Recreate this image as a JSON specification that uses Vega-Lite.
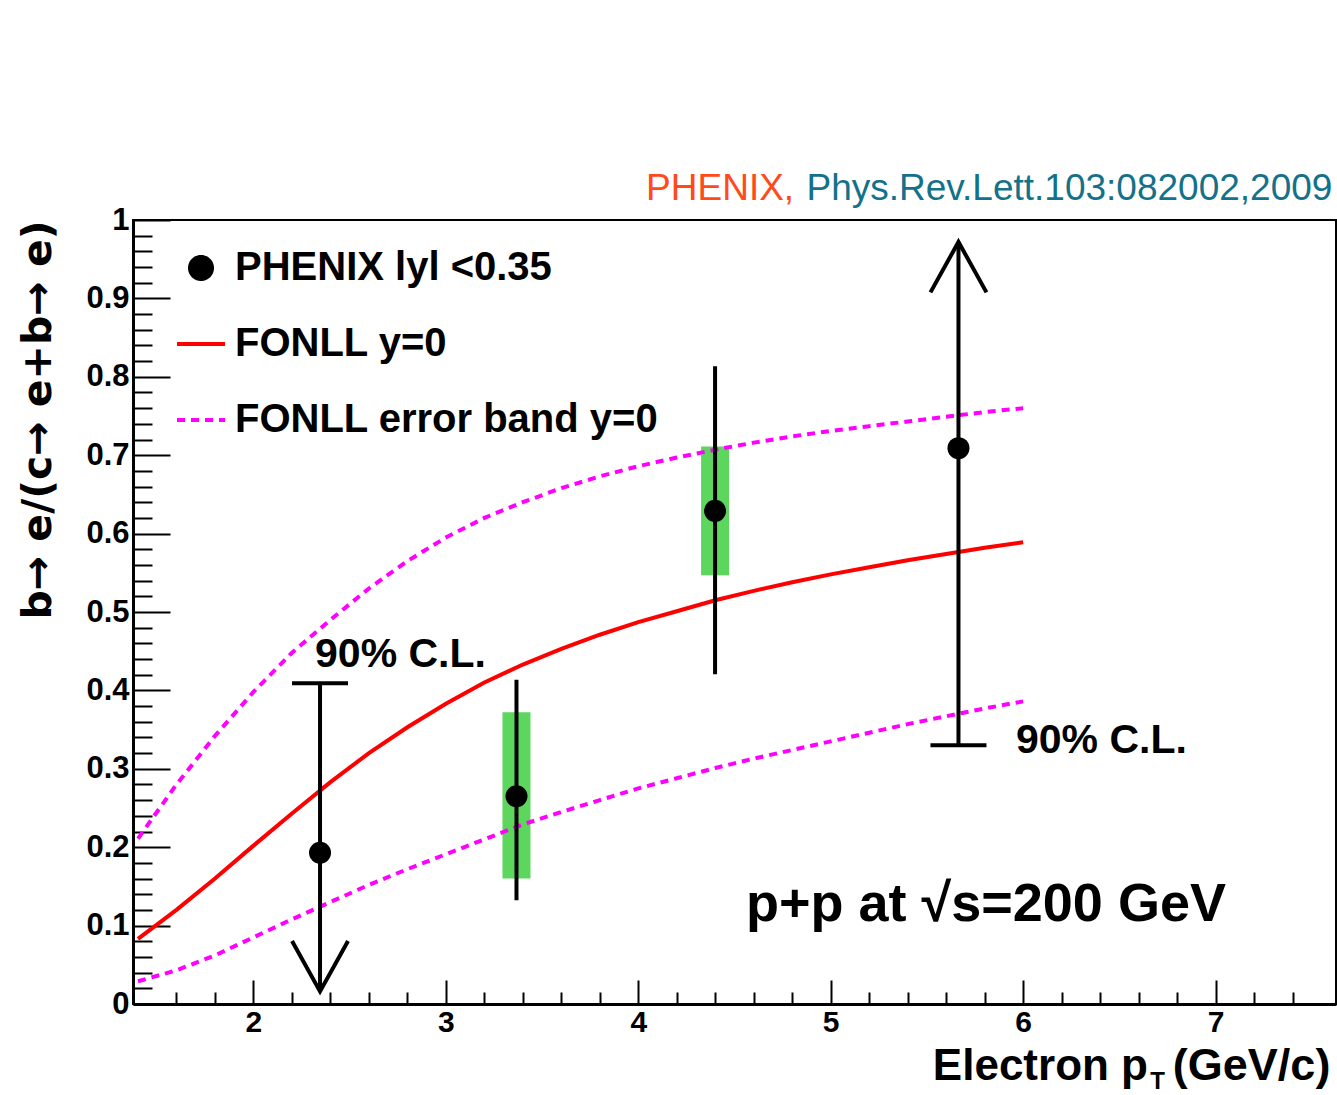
{
  "$schema": "https://vega.github.io/schema/vega-lite/v6.json",
  "width": 1203,
  "height": 784,
  "autosize": "none",
  "padding": {"left": 133, "top": 220, "right": 1, "bottom": 91},
  "background": "white",
  "config": {
    "view": {"stroke": "black", "strokeWidth": 2},
    "font": "Liberation Sans",
    "axis": {"grid": false, "domainColor": "black", "domainWidth": 3, "tickColor": "black", "tickWidth": 2, "labelColor": "black", "labelFont": "Liberation Sans", "labelFontWeight": "bold", "titleColor": "black", "titleFont": "Liberation Sans", "titleFontWeight": "bold", "labelOverlap": false, "labelBound": false}
  },
  "datasets": {
    "points": [
      {"pt": 2.346, "val": 0.193, "series": "PHENIX lyl <0.35", "kind": "upper_limit", "lim": 0.409, "tip": 0.016},
      {"pt": 3.367, "val": 0.265, "series": "PHENIX lyl <0.35", "kind": "measured", "lo": 0.135, "hi": 0.411, "syslo": 0.160, "syshi": 0.372},
      {"pt": 4.399, "val": 0.629, "series": "PHENIX lyl <0.35", "kind": "measured", "lo": 0.423, "hi": 0.811, "syslo": 0.547, "syshi": 0.711},
      {"pt": 5.664, "val": 0.709, "series": "PHENIX lyl <0.35", "kind": "lower_limit", "lim": 0.330, "tip": 0.972}
    ],
    "curves": [
      {"pt": 1.4, "val": 0.083, "series": "FONLL y=0", "part": "central"},
      {"pt": 1.6, "val": 0.120, "series": "FONLL y=0", "part": "central"},
      {"pt": 1.8, "val": 0.160, "series": "FONLL y=0", "part": "central"},
      {"pt": 2.0, "val": 0.202, "series": "FONLL y=0", "part": "central"},
      {"pt": 2.2, "val": 0.243, "series": "FONLL y=0", "part": "central"},
      {"pt": 2.4, "val": 0.283, "series": "FONLL y=0", "part": "central"},
      {"pt": 2.6, "val": 0.320, "series": "FONLL y=0", "part": "central"},
      {"pt": 2.8, "val": 0.353, "series": "FONLL y=0", "part": "central"},
      {"pt": 3.0, "val": 0.383, "series": "FONLL y=0", "part": "central"},
      {"pt": 3.2, "val": 0.410, "series": "FONLL y=0", "part": "central"},
      {"pt": 3.4, "val": 0.433, "series": "FONLL y=0", "part": "central"},
      {"pt": 3.6, "val": 0.453, "series": "FONLL y=0", "part": "central"},
      {"pt": 3.8, "val": 0.471, "series": "FONLL y=0", "part": "central"},
      {"pt": 4.0, "val": 0.487, "series": "FONLL y=0", "part": "central"},
      {"pt": 4.2, "val": 0.501, "series": "FONLL y=0", "part": "central"},
      {"pt": 4.4, "val": 0.515, "series": "FONLL y=0", "part": "central"},
      {"pt": 4.6, "val": 0.527, "series": "FONLL y=0", "part": "central"},
      {"pt": 4.8, "val": 0.538, "series": "FONLL y=0", "part": "central"},
      {"pt": 5.0, "val": 0.548, "series": "FONLL y=0", "part": "central"},
      {"pt": 5.2, "val": 0.557, "series": "FONLL y=0", "part": "central"},
      {"pt": 5.4, "val": 0.566, "series": "FONLL y=0", "part": "central"},
      {"pt": 5.6, "val": 0.574, "series": "FONLL y=0", "part": "central"},
      {"pt": 5.8, "val": 0.582, "series": "FONLL y=0", "part": "central"},
      {"pt": 6.0, "val": 0.589, "series": "FONLL y=0", "part": "central"},
      {"pt": 1.4, "val": 0.211, "series": "FONLL error band y=0", "part": "upper"},
      {"pt": 1.6, "val": 0.280, "series": "FONLL error band y=0", "part": "upper"},
      {"pt": 1.8, "val": 0.342, "series": "FONLL error band y=0", "part": "upper"},
      {"pt": 2.0, "val": 0.398, "series": "FONLL error band y=0", "part": "upper"},
      {"pt": 2.2, "val": 0.448, "series": "FONLL error band y=0", "part": "upper"},
      {"pt": 2.4, "val": 0.490, "series": "FONLL error band y=0", "part": "upper"},
      {"pt": 2.6, "val": 0.530, "series": "FONLL error band y=0", "part": "upper"},
      {"pt": 2.8, "val": 0.565, "series": "FONLL error band y=0", "part": "upper"},
      {"pt": 3.0, "val": 0.595, "series": "FONLL error band y=0", "part": "upper"},
      {"pt": 3.2, "val": 0.620, "series": "FONLL error band y=0", "part": "upper"},
      {"pt": 3.4, "val": 0.640, "series": "FONLL error band y=0", "part": "upper"},
      {"pt": 3.6, "val": 0.658, "series": "FONLL error band y=0", "part": "upper"},
      {"pt": 3.8, "val": 0.673, "series": "FONLL error band y=0", "part": "upper"},
      {"pt": 4.0, "val": 0.686, "series": "FONLL error band y=0", "part": "upper"},
      {"pt": 4.2, "val": 0.697, "series": "FONLL error band y=0", "part": "upper"},
      {"pt": 4.4, "val": 0.707, "series": "FONLL error band y=0", "part": "upper"},
      {"pt": 4.6, "val": 0.716, "series": "FONLL error band y=0", "part": "upper"},
      {"pt": 4.8, "val": 0.724, "series": "FONLL error band y=0", "part": "upper"},
      {"pt": 5.0, "val": 0.731, "series": "FONLL error band y=0", "part": "upper"},
      {"pt": 5.2, "val": 0.737, "series": "FONLL error band y=0", "part": "upper"},
      {"pt": 5.4, "val": 0.743, "series": "FONLL error band y=0", "part": "upper"},
      {"pt": 5.6, "val": 0.749, "series": "FONLL error band y=0", "part": "upper"},
      {"pt": 5.8, "val": 0.755, "series": "FONLL error band y=0", "part": "upper"},
      {"pt": 6.0, "val": 0.760, "series": "FONLL error band y=0", "part": "upper"},
      {"pt": 1.4, "val": 0.029, "series": "FONLL error band y=0", "part": "lower"},
      {"pt": 1.6, "val": 0.043, "series": "FONLL error band y=0", "part": "lower"},
      {"pt": 1.8, "val": 0.062, "series": "FONLL error band y=0", "part": "lower"},
      {"pt": 2.0, "val": 0.085, "series": "FONLL error band y=0", "part": "lower"},
      {"pt": 2.2, "val": 0.108, "series": "FONLL error band y=0", "part": "lower"},
      {"pt": 2.4, "val": 0.130, "series": "FONLL error band y=0", "part": "lower"},
      {"pt": 2.6, "val": 0.152, "series": "FONLL error band y=0", "part": "lower"},
      {"pt": 2.8, "val": 0.172, "series": "FONLL error band y=0", "part": "lower"},
      {"pt": 3.0, "val": 0.191, "series": "FONLL error band y=0", "part": "lower"},
      {"pt": 3.2, "val": 0.210, "series": "FONLL error band y=0", "part": "lower"},
      {"pt": 3.4, "val": 0.229, "series": "FONLL error band y=0", "part": "lower"},
      {"pt": 3.6, "val": 0.245, "series": "FONLL error band y=0", "part": "lower"},
      {"pt": 3.8, "val": 0.260, "series": "FONLL error band y=0", "part": "lower"},
      {"pt": 4.0, "val": 0.275, "series": "FONLL error band y=0", "part": "lower"},
      {"pt": 4.2, "val": 0.288, "series": "FONLL error band y=0", "part": "lower"},
      {"pt": 4.4, "val": 0.301, "series": "FONLL error band y=0", "part": "lower"},
      {"pt": 4.6, "val": 0.313, "series": "FONLL error band y=0", "part": "lower"},
      {"pt": 4.8, "val": 0.324, "series": "FONLL error band y=0", "part": "lower"},
      {"pt": 5.0, "val": 0.335, "series": "FONLL error band y=0", "part": "lower"},
      {"pt": 5.2, "val": 0.346, "series": "FONLL error band y=0", "part": "lower"},
      {"pt": 5.4, "val": 0.357, "series": "FONLL error band y=0", "part": "lower"},
      {"pt": 5.6, "val": 0.367, "series": "FONLL error band y=0", "part": "lower"},
      {"pt": 5.8, "val": 0.377, "series": "FONLL error band y=0", "part": "lower"},
      {"pt": 6.0, "val": 0.386, "series": "FONLL error band y=0", "part": "lower"}
    ],
    "notes": [
      {"text": "90% C.L.", "pt": 2.32, "val": 0.445, "kind": "cl"},
      {"text": "90% C.L.", "pt": 5.963, "val": 0.336, "kind": "cl"},
      {"text": "p+p at √s=200 GeV", "pt": 4.56, "val": 0.126, "kind": "energy"},
      {"text": "PHENIX,", "pt": 4.81, "val": 1.025, "kind": "ref1"},
      {"text": "Phys.Rev.Lett.103:082002,2009", "pt": 4.874, "val": 1.025, "kind": "ref2"},
      {"text": "Electron p", "pt": 6.649, "val": -0.097, "kind": "xt1"},
      {"text": "T", "pt": 6.66, "val": -0.109, "kind": "xt2"},
      {"text": "(GeV/c)", "pt": 6.778, "val": -0.097, "kind": "xt3"}
    ]
  },
  "layer": [
    {
      "data": {"name": "points"},
      "transform": [{"filter": "datum.kind === 'measured'"}],
      "mark": {"type": "bar", "size": 28, "color": "#5cd65c"},
      "encoding": {
        "x": {"field": "pt", "type": "quantitative",
          "scale": {"domain": [1.4, 7.6], "nice": false, "zero": false},
          "axis": {
            "values": [1.6, 1.8, 2, 2.2, 2.4, 2.6, 2.8, 3, 3.2, 3.4, 3.6, 3.8, 4, 4.2, 4.4, 4.6, 4.8, 5, 5.2, 5.4, 5.6, 5.8, 6, 6.2, 6.4, 6.6, 6.8, 7, 7.2, 7.4],
            "tickCount": 200,
            "labelExpr": "datum.value % 1 === 0 ? format(datum.value, 'd') : ''",
            "tickSize": {"condition": {"test": "datum.value % 1 === 0", "value": -24}, "value": -12},
            "labelPadding": {"condition": {"test": "datum.value % 1 === 0", "value": 27}, "value": 15},
            "labelOverlap": false,
            "labelFontSize": 30, "title": null
          }},
        "y": {"field": "syslo", "type": "quantitative",
          "scale": {"domain": [0, 1], "nice": false, "zero": false},
          "axis": {
            "values": [0, 0.02, 0.04, 0.06, 0.08, 0.1, 0.12, 0.14, 0.16, 0.18, 0.2, 0.22, 0.24, 0.26, 0.28, 0.3, 0.32, 0.34, 0.36, 0.38, 0.4, 0.42, 0.44, 0.46, 0.48, 0.5, 0.52, 0.54, 0.56, 0.58, 0.6, 0.62, 0.64, 0.66, 0.68, 0.7, 0.72, 0.74, 0.76, 0.78, 0.8, 0.82, 0.84, 0.86, 0.88, 0.9, 0.92, 0.94, 0.96, 0.98, 1],
            "tickCount": 200,
            "labelExpr": "abs(datum.value * 10 - round(datum.value * 10)) < 0.001 ? format(datum.value, '~g') : ''",
            "tickSize": {"condition": {"test": "abs(datum.value * 10 - round(datum.value * 10)) < 0.001", "value": -37}, "value": -19},
            "labelPadding": {"condition": {"test": "abs(datum.value * 10 - round(datum.value * 10)) < 0.001", "value": 41}, "value": 23},
            "labelOverlap": false,
            "labelFontSize": 31,
            "title": "b→ e/(c→ e+b→ e)", "titleFont": "DejaVu Sans", "titleFontSize": 41, "titleAngle": 270,
            "titleX": -95, "titleY": 0, "titleAlign": "right", "titleBaseline": "middle"
          }},
        "y2": {"field": "syshi"}
      }
    },
    {
      "data": {"name": "curves"},
      "transform": [{"filter": "datum.part === 'central'"}],
      "mark": {"type": "line", "strokeWidth": 4},
      "encoding": {
        "x": {"field": "pt", "type": "quantitative"},
        "y": {"field": "val", "type": "quantitative"},
        "color": {"field": "series", "type": "nominal",
          "scale": {"domain": ["PHENIX lyl <0.35", "FONLL y=0", "FONLL error band y=0"], "range": ["black", "#ff0000", "#ff00ff"]},
          "legend": {
            "orient": "none", "legendX": 42, "legendY": 22, "padding": 0, "title": null,
            "labelFont": "Liberation Sans", "labelFontWeight": "bold", "labelFontSize": 40, "labelColor": "black", "labelLimit": 1000,
            "labelOffset": 8, "rowPadding": 30, "symbolSize": 2304, "symbolStrokeWidth": 4,
            "encode": {"symbols": {"update": {
              "shape": {"signal": "datum.value === 'PHENIX lyl <0.35' ? 'circle' : 'stroke'"},
              "size": {"signal": "datum.value === 'PHENIX lyl <0.35' ? 484 : 2304"},
              "fill": {"signal": "datum.value === 'PHENIX lyl <0.35' ? 'black' : 'transparent'"},
              "stroke": {"signal": "datum.value === 'PHENIX lyl <0.35' ? 'transparent' : (datum.value === 'FONLL y=0' ? '#ff0000' : '#ff00ff')"},
              "strokeWidth": {"value": 4},
              "strokeDash": {"signal": "datum.value === 'FONLL error band y=0' ? [8, 6] : [1, 0]"},
              "opacity": {"value": 1}
            }}}
          }}
      }
    },
    {
      "data": {"name": "curves"},
      "transform": [{"filter": "datum.part !== 'central'"}],
      "mark": {"type": "line", "strokeWidth": 4, "strokeDash": [8, 6]},
      "encoding": {
        "x": {"field": "pt", "type": "quantitative"},
        "y": {"field": "val", "type": "quantitative"},
        "detail": {"field": "part"},
        "color": {"field": "series", "type": "nominal"}
      }
    },
    {
      "data": {"name": "points"},
      "transform": [{"filter": "datum.kind === 'measured'"}],
      "mark": {"type": "rule", "strokeWidth": 4, "color": "black", "strokeCap": "square"},
      "encoding": {
        "x": {"field": "pt", "type": "quantitative"},
        "y": {"field": "lo", "type": "quantitative"},
        "y2": {"field": "hi"}
      }
    },
    {
      "data": {"name": "points"},
      "transform": [{"filter": "datum.kind !== 'measured'"}],
      "mark": {"type": "rule", "strokeWidth": 4, "color": "black"},
      "encoding": {
        "x": {"field": "pt", "type": "quantitative"},
        "y": {"field": "lim", "type": "quantitative"},
        "y2": {"field": "tip"}
      }
    },
    {
      "data": {"name": "points"},
      "transform": [{"filter": "datum.kind !== 'measured'"}],
      "mark": {"type": "point", "shape": "stroke", "size": 3136, "strokeWidth": 4, "color": "black", "opacity": 1},
      "encoding": {
        "x": {"field": "pt", "type": "quantitative"},
        "y": {"field": "lim", "type": "quantitative"}
      }
    },
    {
      "data": {"name": "points"},
      "transform": [{"filter": "datum.kind === 'upper_limit'"}],
      "mark": {"type": "point", "shape": "M-1,-1.8L0,0L1,-1.8", "size": 3136, "strokeWidth": 4, "color": "black", "filled": false, "opacity": 1},
      "encoding": {
        "x": {"field": "pt", "type": "quantitative"},
        "y": {"field": "tip", "type": "quantitative"}
      }
    },
    {
      "data": {"name": "points"},
      "transform": [{"filter": "datum.kind === 'lower_limit'"}],
      "mark": {"type": "point", "shape": "M-1,1.8L0,0L1,1.8", "size": 3136, "strokeWidth": 4, "color": "black", "filled": false, "opacity": 1},
      "encoding": {
        "x": {"field": "pt", "type": "quantitative"},
        "y": {"field": "tip", "type": "quantitative"}
      }
    },
    {
      "data": {"name": "points"},
      "mark": {"type": "point", "filled": true, "size": 484, "opacity": 1},
      "encoding": {
        "x": {"field": "pt", "type": "quantitative"},
        "y": {"field": "val", "type": "quantitative"},
        "color": {"field": "series", "type": "nominal"}
      }
    },
    {
      "data": {"name": "notes"},
      "transform": [{"filter": "datum.kind === 'cl'"}],
      "mark": {"type": "text", "align": "left", "baseline": "middle", "font": "Liberation Sans", "fontWeight": "bold", "fontSize": 41, "color": "black"},
      "encoding": {
        "x": {"field": "pt", "type": "quantitative"},
        "y": {"field": "val", "type": "quantitative"},
        "text": {"field": "text"}
      }
    },
    {
      "data": {"name": "notes"},
      "transform": [{"filter": "datum.kind === 'energy'"}],
      "mark": {"type": "text", "align": "left", "baseline": "middle", "font": "Liberation Sans", "fontWeight": "bold", "fontSize": 54, "color": "black"},
      "encoding": {
        "x": {"field": "pt", "type": "quantitative"},
        "y": {"field": "val", "type": "quantitative"},
        "text": {"field": "text"}
      }
    },
    {
      "data": {"name": "notes"},
      "transform": [{"filter": "datum.kind === 'ref1'"}],
      "mark": {"type": "text", "align": "right", "baseline": "alphabetic", "font": "Liberation Sans", "fontSize": 37, "color": "#ff4a1c"},
      "encoding": {
        "x": {"field": "pt", "type": "quantitative"},
        "y": {"field": "val", "type": "quantitative"},
        "text": {"field": "text"}
      }
    },
    {
      "data": {"name": "notes"},
      "transform": [{"filter": "datum.kind === 'ref2'"}],
      "mark": {"type": "text", "align": "left", "baseline": "alphabetic", "font": "Liberation Sans", "fontSize": 37, "color": "#14718a"},
      "encoding": {
        "x": {"field": "pt", "type": "quantitative"},
        "y": {"field": "val", "type": "quantitative"},
        "text": {"field": "text"}
      }
    },
    {
      "data": {"name": "notes"},
      "transform": [{"filter": "datum.kind === 'xt1'"}],
      "mark": {"type": "text", "align": "right", "baseline": "alphabetic", "font": "Liberation Sans", "fontWeight": "bold", "fontSize": 44, "color": "black"},
      "encoding": {
        "x": {"field": "pt", "type": "quantitative"},
        "y": {"field": "val", "type": "quantitative"},
        "text": {"field": "text"}
      }
    },
    {
      "data": {"name": "notes"},
      "transform": [{"filter": "datum.kind === 'xt2'"}],
      "mark": {"type": "text", "align": "left", "baseline": "alphabetic", "font": "Liberation Sans", "fontWeight": "bold", "fontSize": 24, "color": "black"},
      "encoding": {
        "x": {"field": "pt", "type": "quantitative"},
        "y": {"field": "val", "type": "quantitative"},
        "text": {"field": "text"}
      }
    },
    {
      "data": {"name": "notes"},
      "transform": [{"filter": "datum.kind === 'xt3'"}],
      "mark": {"type": "text", "align": "left", "baseline": "alphabetic", "font": "Liberation Sans", "fontWeight": "bold", "fontSize": 45, "color": "black"},
      "encoding": {
        "x": {"field": "pt", "type": "quantitative"},
        "y": {"field": "val", "type": "quantitative"},
        "text": {"field": "text"}
      }
    }
  ]
}
